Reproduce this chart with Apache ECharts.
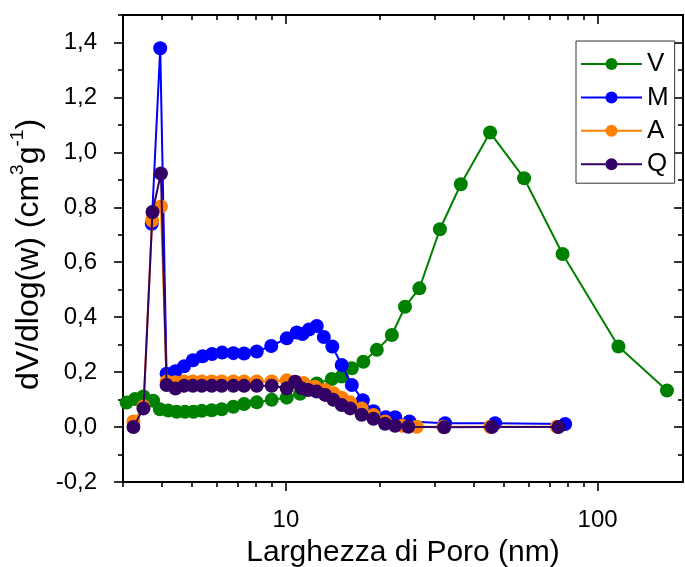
<!DOCTYPE html>
<html>
<head>
<meta charset="utf-8">
<script src="https://cdn.jsdelivr.net/npm/echarts@6/dist/echarts.min.js"></script>
<style>
  html, body { margin: 0; padding: 0; background: #fff; }
  #chart { width: 685px; height: 567px; }
</style>
</head>
<body>
<div id="chart"></div>
<script>
// Pore size distributions (BJH), dV/dlog(w) vs pore width in nm
const seriesNames = ['V', 'M', 'A', 'Q'];
const seriesColors = ['#008000', '#0000ff', '#ff8000', '#330066'];

const V_x = [3.08, 3.28, 3.49, 3.75, 3.94, 4.19, 4.46, 4.74, 5.05, 5.37, 5.78, 6.22, 6.78, 7.34, 8.06, 9.0, 10.06, 11.1, 12.56, 14.03, 15.1, 16.27, 17.72, 19.57, 21.87, 24.1, 26.8, 31.2, 36.4, 45.2, 58.1, 77.2, 116.7, 167];
const V_y = [0.089, 0.102, 0.111, 0.096, 0.065, 0.060, 0.056, 0.056, 0.056, 0.059, 0.061, 0.065, 0.074, 0.084, 0.090, 0.099, 0.107, 0.121, 0.159, 0.175, 0.184, 0.214, 0.238, 0.281, 0.335, 0.438, 0.505, 0.720, 0.884, 1.072, 0.906, 0.630, 0.293, 0.133];

const M_x = [3.71, 3.95, 4.14, 4.42, 4.71, 5.03, 5.40, 5.79, 6.24, 6.78, 7.34, 8.06, 8.97, 10.06, 10.83, 11.3, 11.86, 12.56, 13.23, 14.09, 15.1, 16.27, 17.65, 19.11, 20.9, 22.4, 24.9, 32.4, 46.9, 78.7];
const M_y = [0.740, 1.379, 0.194, 0.203, 0.221, 0.243, 0.258, 0.266, 0.271, 0.269, 0.268, 0.275, 0.295, 0.323, 0.344, 0.339, 0.355, 0.368, 0.328, 0.293, 0.226, 0.153, 0.098, 0.058, 0.036, 0.036, 0.020, 0.014, 0.014, 0.011];

const A_x = [3.24, 3.49, 3.72, 3.97, 4.14, 4.42, 4.71, 5.03, 5.37, 5.78, 6.22, 6.78, 7.34, 8.06, 9.0, 10.06, 10.8, 11.4, 12.4, 13.36, 14.2, 15.1, 16.07, 17.5, 19.09, 20.8, 23.6, 26.3, 32.0, 45.2, 74.0];
const A_y = [0.020, 0.075, 0.752, 0.803, 0.166, 0.163, 0.166, 0.166, 0.166, 0.166, 0.166, 0.166, 0.166, 0.166, 0.166, 0.170, 0.163, 0.160, 0.147, 0.135, 0.123, 0.107, 0.090, 0.068, 0.044, 0.020, 0.005, 0.001, 0.001, 0.001, 0.001];

const Q_x = [3.24, 3.49, 3.73, 3.97, 4.14, 4.42, 4.71, 5.03, 5.37, 5.78, 6.22, 6.78, 7.34, 8.06, 9.0, 10.06, 10.7, 11.24, 11.8, 12.56, 13.36, 14.2, 15.1, 16.07, 17.5, 19.09, 20.8, 22.4, 24.7, 32.2, 45.8, 74.9];
const Q_y = [0.0, 0.068, 0.783, 0.923, 0.153, 0.140, 0.150, 0.150, 0.150, 0.150, 0.150, 0.150, 0.150, 0.150, 0.150, 0.141, 0.165, 0.141, 0.135, 0.129, 0.117, 0.099, 0.080, 0.068, 0.045, 0.030, 0.012, 0.005, 0.001, -0.001, 0.0, 0.0];

// Axis ranges and tick positions
const X_MIN = 3, X_MAX = 188;
const xMajorTicks = [10, 100];
const xMinorTicks = [3, 4, 5, 6, 7, 8, 9, 20, 30, 40, 50, 60, 70, 80, 90];
const Y_MIN = -0.2, Y_MAX = 1.5;
const yMajorTicks = [-0.2, 0, 0.2, 0.4, 0.6, 0.8, 1.0, 1.2, 1.4];
const yMinorTicks = [-0.1, 0.1, 0.3, 0.5, 0.7, 0.9, 1.1, 1.3, 1.5];

const FONT = 'Liberation Sans, Arial, sans-serif';
const INK = '#000';

function pairs(xs, ys) { return xs.map((x, i) => [x, ys[i]]); }
const seriesData = [pairs(V_x, V_y), pairs(M_x, M_y), pairs(A_x, A_y), pairs(Q_x, Q_y)];

function xAxisDef(position, ticks, len, inside, withLine, withLabels) {
  return {
    type: 'log', logBase: 10, min: X_MIN, max: X_MAX, position: position,
    name: withLabels ? 'Larghezza di Poro (nm)' : '',
    nameLocation: 'middle', nameGap: 56,
    nameTextStyle: { fontFamily: FONT, fontSize: 30, color: INK },
    axisLine: { show: withLine, onZero: false, lineStyle: { color: INK, width: 2 } },
    axisTick: { show: true, inside: inside, length: len, customValues: ticks, lineStyle: { color: INK, width: 1.6 } },
    axisLabel: withLabels ? { show: true, customValues: xMajorTicks, margin: 26, fontFamily: FONT, fontSize: 24, color: INK, formatter: v => String(Math.round(v)) } : { show: false },
    splitLine: { show: false }, minorTick: { show: false }
  };
}

function yAxisDef(position, ticks, len, inside, withLine, withLabels) {
  return {
    type: 'value', min: Y_MIN, max: Y_MAX, position: position,
    name: withLabels ? '{n|dV/dlog(w) (cm}{s|3}{n|g}{s|-1}{n|)}' : '',
    nameLocation: 'middle', nameGap: 57, nameRotate: 90,
    nameTextStyle: {
      fontFamily: FONT, color: INK,
      padding: [0, 12, 0, 0],
      rich: {
        n: { fontFamily: FONT, fontSize: 32, color: INK, lineHeight: 36, verticalAlign: 'bottom' },
        s: { fontFamily: FONT, fontSize: 19, color: INK, lineHeight: 36, verticalAlign: 'top', padding: [0, 0, 12, 0] }
      }
    },
    axisLine: { show: withLine, onZero: false, lineStyle: { color: INK, width: 2 } },
    axisTick: { show: true, inside: inside, length: len, customValues: ticks, lineStyle: { color: INK, width: 1.6 } },
    axisLabel: withLabels ? { show: true, customValues: yMajorTicks, margin: 26, fontFamily: FONT, fontSize: 24, color: INK, formatter: v => v.toFixed(1).replace('.', ',') } : { show: false },
    splitLine: { show: false }, minorTick: { show: false }
  };
}

const chart = echarts.init(document.getElementById('chart'), null, { renderer: 'canvas' });
chart.setOption({
  animation: false,
  backgroundColor: '#fff',
  grid: { left: 123, right: 2, top: 15, bottom: 85, containLabel: false, outerBoundsMode: 'none' },
  xAxis: [
    xAxisDef('bottom', xMajorTicks, 9, false, true, true),
    xAxisDef('bottom', xMinorTicks, 5, false, false, false),
    xAxisDef('top', xMajorTicks, 9, true, true, false),
    xAxisDef('top', xMinorTicks, 5, true, false, false)
  ],
  yAxis: [
    yAxisDef('left', yMajorTicks, 9, false, true, true),
    yAxisDef('left', yMinorTicks, 5, false, false, false),
    yAxisDef('right', yMajorTicks, 9, true, true, false),
    yAxisDef('right', yMinorTicks, 5, true, false, false)
  ],
  legend: {
    orient: 'vertical', left: 576, top: 41,
    width: 99,
    padding: [10, 6, 6, 4],
    itemGap: 7.4, itemWidth: 61, itemHeight: 15,
    backgroundColor: '#fff', borderColor: '#333', borderWidth: 1,
    textStyle: { fontFamily: FONT, fontSize: 26, color: INK, padding: [0, 0, 0, 0] },
    data: seriesNames
  },
  series: seriesNames.map((name, i) => ({
    name: name, type: 'line',
    xAxisIndex: 0, yAxisIndex: 0,
    data: seriesData[i],
    symbol: 'circle', symbolSize: 14,
    showSymbol: true,
    color: seriesColors[i],
    lineStyle: { color: seriesColors[i], width: 2 },
    itemStyle: { color: seriesColors[i] },
    z: 2 + i,
    clip: false
  }))
});
</script>
</body>
</html>
